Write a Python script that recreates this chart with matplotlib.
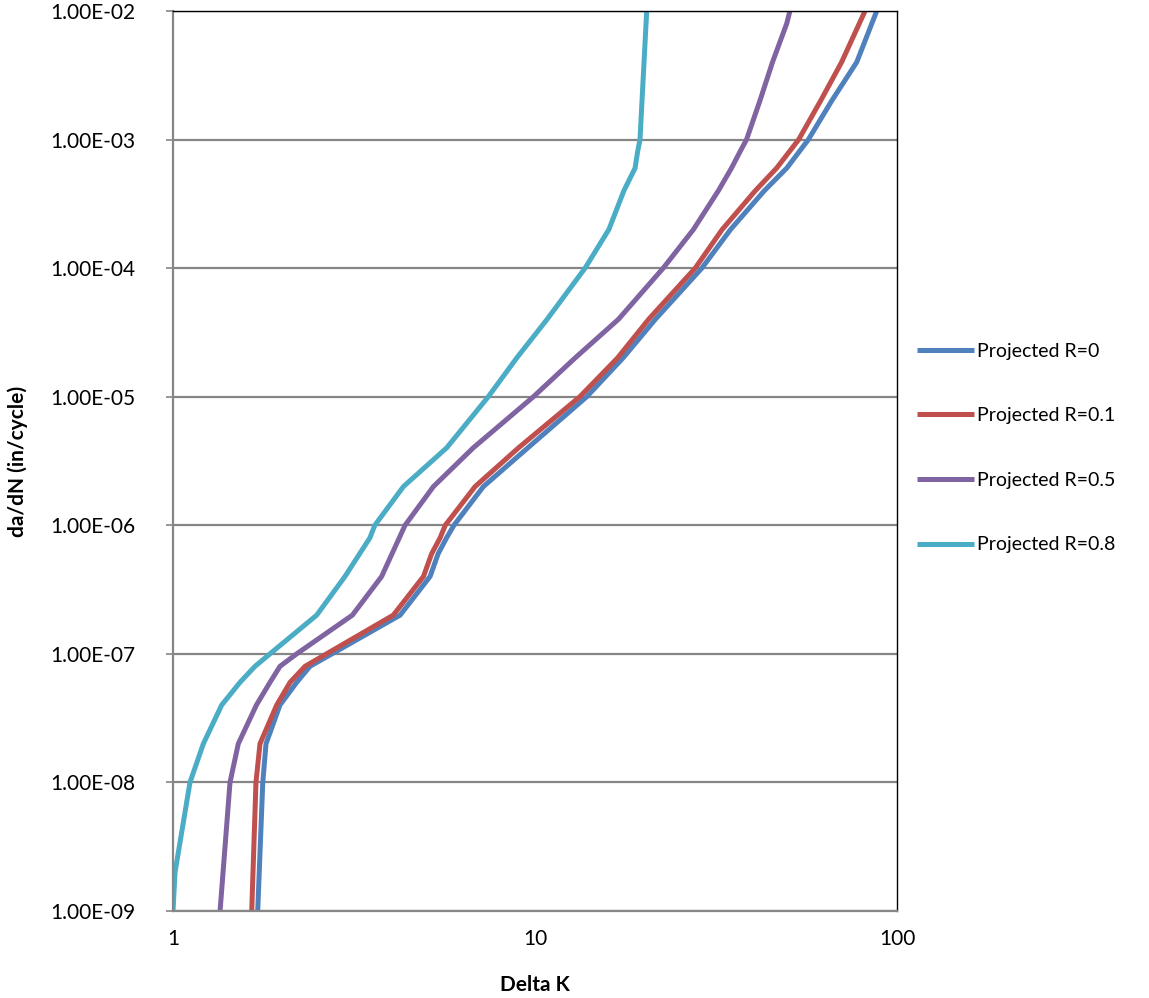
import matplotlib
matplotlib.use("Agg")
import matplotlib.pyplot as plt
from matplotlib.ticker import FixedLocator, FuncFormatter, NullLocator

plt.rcParams['font.family'] = ['Lato', 'DejaVu Sans']

# da/dN values (in/cycle) and Delta K for each series
da_r0 = [1e-9, 1e-8, 2e-8, 4e-8, 6e-8, 8e-8, 2e-7, 4e-7, 6e-7, 8e-7, 1e-6, 2e-6, 4e-6,
         1e-5, 2e-5, 4e-5, 1e-4, 2e-4, 4e-4, 6e-4, 1e-3, 2e-3, 4e-3, 1e-2]
dk_r0 = [1.714, 1.77, 1.807, 1.975, 2.196, 2.39, 4.24, 5.13, 5.4, 5.7, 5.97, 7.2, 9.55,
         13.9, 17.5, 21.5, 28.9, 34.7, 43.0, 49.6, 56.9, 66.0, 77.4, 87.9]

da_r01 = [1e-9, 1e-8, 2e-8, 4e-8, 6e-8, 8e-8, 2e-7, 4e-7, 6e-7, 8e-7, 1e-6, 2e-6, 4e-6,
          1e-5, 2e-5, 4e-5, 1e-4, 2e-4, 4e-4, 6e-4, 1e-3, 2e-3, 4e-3, 1e-2]
dk_r01 = [1.65, 1.695, 1.739, 1.934, 2.105, 2.316, 4.06, 4.92, 5.18, 5.47, 5.65, 6.83, 9.0,
          13.3, 16.9, 20.6, 27.7, 32.9, 40.6, 46.5, 53.5, 61.5, 70.3, 81.6]

da_r05 = [1e-9, 1e-8, 2e-8, 4e-8, 6e-8, 8e-8, 1e-7, 2e-7, 4e-7, 1e-6, 2e-6, 4e-6,
          1e-5, 2e-5, 4e-5, 1e-4, 2e-4, 4e-4, 6e-4, 8e-4, 1e-3, 2e-3, 4e-3, 8e-3, 1e-2]
dk_r05 = [1.349, 1.437, 1.515, 1.70, 1.853, 1.975, 2.196, 3.13, 3.77, 4.375, 5.24, 6.75,
          9.9, 12.9, 17.0, 22.6, 27.4, 32.1, 34.9, 36.8, 38.4, 41.8, 45.3, 49.6, 50.6]

da_r08 = [1e-9, 2e-9, 1e-8, 2e-8, 4e-8, 6e-8, 8e-8, 1e-7, 2e-7, 4e-7, 8e-7, 1e-6, 2e-6, 4e-6,
          1e-5, 2e-5, 4e-5, 1e-4, 2e-4, 4e-4, 6e-4, 8e-4, 1e-3, 1e-2]
dk_r08 = [1.0, 1.013, 1.114, 1.213, 1.363, 1.531, 1.685, 1.853, 2.494, 2.986, 3.5, 3.61, 4.33, 5.70,
          7.43, 8.9, 10.8, 13.75, 16.0, 17.6, 18.9, 19.2, 19.5, 20.35]

labels = ["Projected R=0", "Projected R=0.1", "Projected R=0.5", "Projected R=0.8"]
colors = ["#4F81BD", "#C0504D", "#8064A2", "#4BACC6"]

x_ticks = [1, 10, 100]
y_ticks = [1e-9, 1e-8, 1e-7, 1e-6, 1e-5, 1e-4, 1e-3, 1e-2]

fig = plt.figure(figsize=(11.49, 9.98), dpi=100)
ax = fig.add_axes([173/1149, 1-911/998, (897-173)/1149, (911-11)/998])

series = [(dk_r0, da_r0), (dk_r01, da_r01), (dk_r05, da_r05), (dk_r08, da_r08)]
for (xk, yd), lab, col in zip(series, labels, colors):
    ax.plot(xk, yd, color=col, lw=3.6, label=lab, solid_joinstyle='round', solid_capstyle='butt')

ax.set_xscale('log')
ax.set_yscale('log')
ax.set_xlim(1, 100)
ax.set_ylim(1e-9, 1e-2)

ax.xaxis.set_major_locator(FixedLocator(x_ticks))
ax.xaxis.set_minor_locator(NullLocator())
ax.yaxis.set_major_locator(FixedLocator(y_ticks))
ax.yaxis.set_minor_locator(NullLocator())
ax.xaxis.set_major_formatter(FuncFormatter(lambda v, p: f"{v:g}"))
ax.yaxis.set_major_formatter(FuncFormatter(lambda v, p: f"{v:.2E}"))

ax.grid(True, axis='y', color='#868686', lw=1.6)
ax.set_axisbelow(True)
for s in ['left', 'bottom']:
    ax.spines[s].set_color('#868686')
    ax.spines[s].set_linewidth(1.6)
for s in ['top', 'right']:
    ax.spines[s].set_color('#000000')
    ax.spines[s].set_linewidth(1.0)

ax.tick_params(axis='y', length=5, width=1.2, color='#868686', pad=22, labelsize=15)
ax.tick_params(axis='x', length=0, pad=13, labelsize=15)

ax.set_xlabel("Delta K", fontsize=15, fontweight='bold', labelpad=19)
ax.set_ylabel("da/dN (in/cycle)", fontsize=15, fontweight='bold', labelpad=16)

fig.legend(loc='center left', bbox_to_anchor=(917/1149, 1-448/998), frameon=False,
           fontsize=14, handlelength=2.95, handletextpad=0.16, labelspacing=2.45,
           borderpad=0, borderaxespad=0)

fig.savefig("out.png", dpi=100)
